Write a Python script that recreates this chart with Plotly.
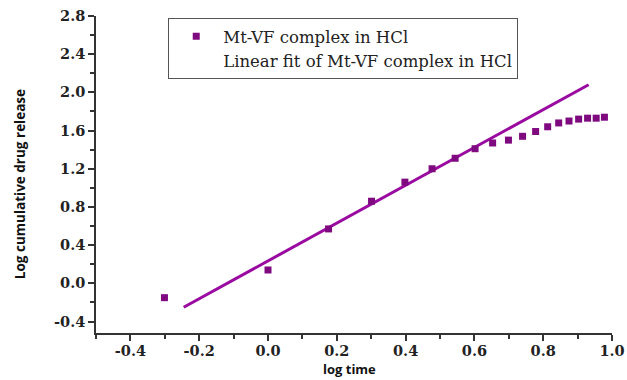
import plotly.graph_objects as go

# Release data: log(time) vs log(cumulative drug release)
log_time = [-0.301, 0.0, 0.176, 0.301, 0.398, 0.477, 0.544, 0.602, 0.653,
            0.699, 0.740, 0.778, 0.813, 0.845, 0.875, 0.903, 0.929, 0.954, 0.978]
log_release = [-0.15, 0.14, 0.57, 0.86, 1.06, 1.20, 1.31, 1.41, 1.47,
               1.50, 1.54, 1.59, 1.64, 1.68, 1.70, 1.72, 1.73, 1.73, 1.74]

# Linear fit parameters and the x span over which the fit line is drawn
fit_slope = 1.98
fit_intercept = 0.235
fit_x = [-0.245, 0.932]
fit_y = [fit_intercept + fit_slope * x for x in fit_x]

x_ticks = [-0.4, -0.2, 0.0, 0.2, 0.4, 0.6, 0.8, 1.0]
y_ticks = [-0.4, 0.0, 0.4, 0.8, 1.2, 1.6, 2.0, 2.4, 2.8]

series_name = "Mt-VF complex in HCl"
fit_name = "Linear fit of Mt-VF complex in HCl"

fig = go.Figure()
fig.add_trace(go.Scatter(
    x=fit_x, y=fit_y, mode="lines", showlegend=False,
    line=dict(color="#9a0aa0", width=3),
))
fig.add_trace(go.Scatter(
    x=log_time, y=log_release, mode="markers", name=series_name,
    marker=dict(symbol="square", size=7, color="#7f0a80"),
))
# Legend entry for the fit, shown as text only
fig.add_trace(go.Scatter(
    x=[None], y=[None], mode="none", name=fit_name, showlegend=True,
))

tick_font = dict(family="DejaVu Serif", size=14.5, color="#222222", weight="bold")
title_font = dict(family="Open Sans", size=13, color="#111111")

fig.update_layout(
    width=627, height=380,
    margin=dict(l=96, r=15, t=16, b=47),
    paper_bgcolor="white", plot_bgcolor="white",
    showlegend=True,
    legend=dict(
        x=0.14, y=0.994, xanchor="left", yanchor="top",
        bgcolor="white", bordercolor="#555555", borderwidth=1,
        font=dict(family="DejaVu Serif", size=16.5, color="#222222"),
        tracegroupgap=0, itemwidth=44,
    ),
    xaxis=dict(
        range=[-0.5, 1.0], tickvals=x_ticks, automargin=False,
        ticktext=[f"{v:.1f}" for v in x_ticks],
        showgrid=False, zeroline=False, showline=True, linecolor="#333333", linewidth=1.5,
        ticks="outside", ticklen=6, tickwidth=1.5, tickcolor="#333333",
        minor=dict(dtick=0.1, tick0=0, ticks="outside", ticklen=4, tickcolor="#333333", showgrid=False),
        tickfont=tick_font, ticklabelstandoff=-2,
    ),
    yaxis=dict(
        range=[-0.52, 2.8], tickvals=y_ticks, automargin=False,
        ticktext=[f"{v:.1f}" for v in y_ticks],
        showgrid=False, zeroline=False, showline=True, linecolor="#333333", linewidth=1.5,
        ticks="outside", ticklen=6, tickwidth=1.5, tickcolor="#333333",
        minor=dict(dtick=0.2, tick0=0, ticks="outside", ticklen=4, tickcolor="#333333", showgrid=False),
        tickfont=tick_font,
    ),
    annotations=[
        dict(
            text="<b>log time</b>", font=title_font,
            xref="paper", yref="paper", x=0.492, y=-0.146,
            xanchor="center", yanchor="bottom", showarrow=False, borderpad=0,
        ),
        dict(
            text="<b>Log cumulative drug release</b>", font=dict(title_font, size=13.5),
            xref="paper", yref="paper", x=-0.147, y=0.47,
            xanchor="center", yanchor="middle", textangle=-90, showarrow=False,
        ),
    ],
)

fig.write_html("out.html")
